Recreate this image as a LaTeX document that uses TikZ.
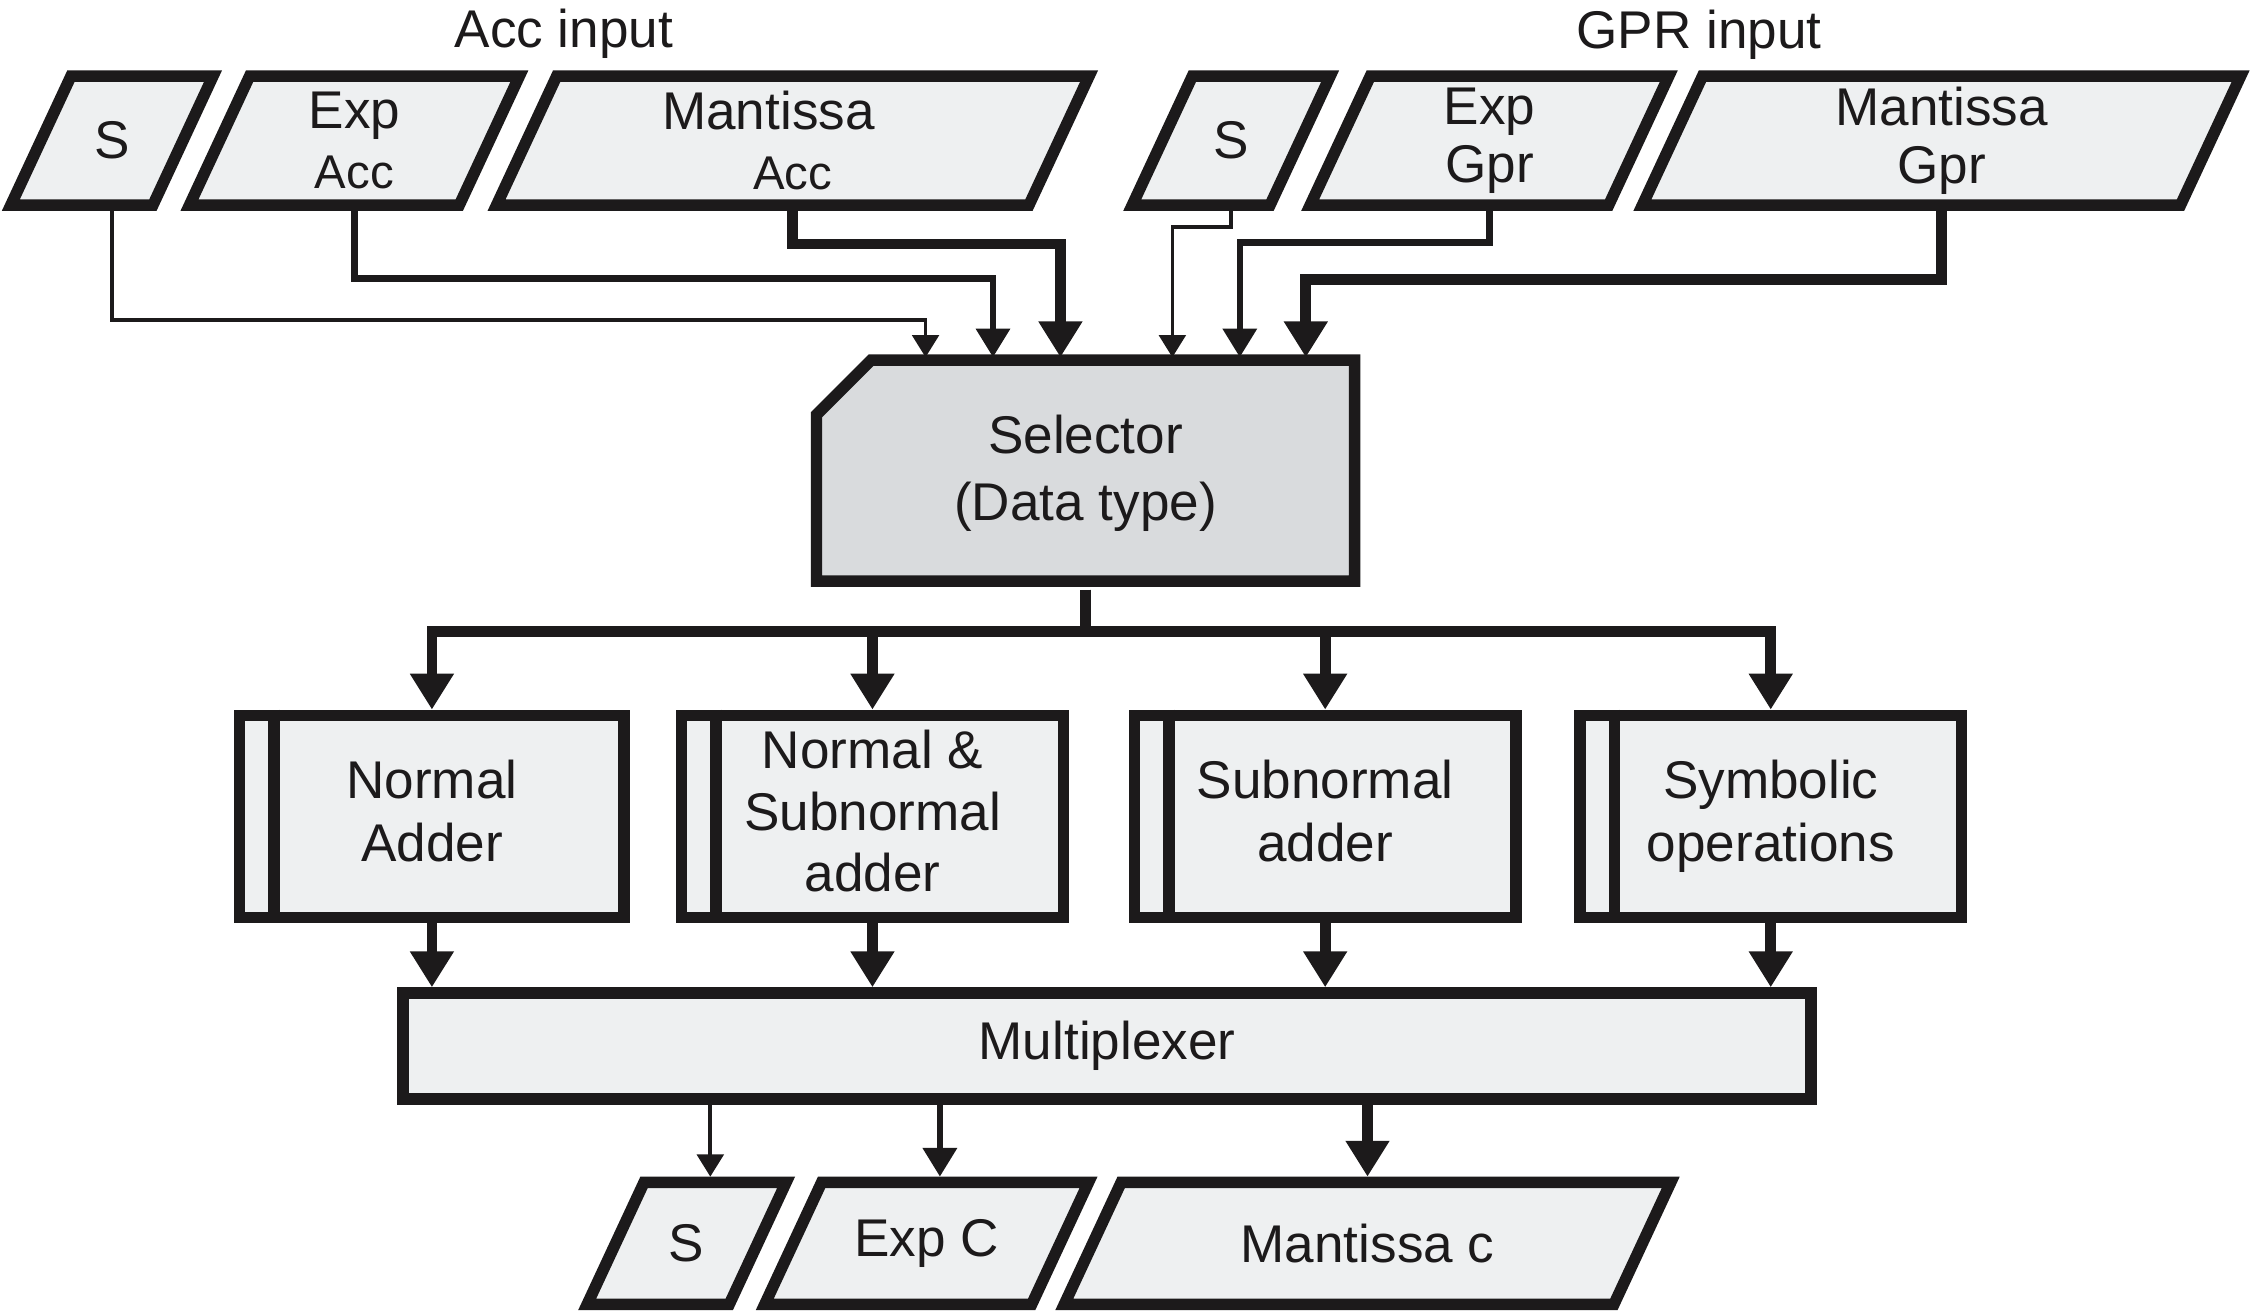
\documentclass[tikz,border=0pt]{standalone}
\usepackage{fontspec}
\setmainfont{Liberation Sans}
\usetikzlibrary{arrows.meta}
\definecolor{ink}{HTML}{1C1A1B}
\definecolor{boxfill}{HTML}{EEF0F1}
\definecolor{selfill}{HTML}{D9DBDD}
% parallelogram: centre x, centre y, width, height (stroke centre line)
\newcommand{\pgram}[4]{%
  \draw[shp] ({#1-#3/2+0.233*#4},{#2-#4/2}) -- ({#1+#3/2+0.233*#4},{#2-#4/2})
    -- ({#1+#3/2-0.233*#4},{#2+#4/2}) -- ({#1-#3/2-0.233*#4},{#2+#4/2}) -- cycle;}
\begin{document}
\begin{tikzpicture}[x=1pt,y=-1pt,
  shp/.style={draw=ink,line width=8pt,fill=boxfill,line join=miter},
  lbl/.style={inner sep=0pt,outer sep=0pt,align=center,text=ink,font=\fontsize{37}{44}\selectfont},
  blk/.style={shp,lbl,outer sep=4pt},
  wthin/.style={draw=ink,line width=2.6pt,-{Triangle[length=15.5pt,width=18.5pt]}},
  wmed/.style={draw=ink,line width=4.6pt,-{Triangle[length=20pt,width=23pt]}},
  wthick/.style={draw=ink,line width=7.5pt,-{Triangle[length=25pt,width=29pt]}}]
\fill[white] (0,0) rectangle (1568,916);
\useasboundingbox (0,0) rectangle (1568,916);

% titles
\node[lbl,anchor=base] (accT) at (393,33) {Acc input};
\node[lbl,anchor=base] (gprT) at (1184,34) {GPR input};

% top row
\pgram{78}{98}{99}{90}
\node[lbl,minimum height=98pt] (accS) at (78,98) {S};
\pgram{247}{98}{188}{90}
\node[lbl,minimum height=98pt] (accE) at (247,98) {Exp\\[-2pt]{\fontsize{33}{40}\selectfont Acc}};
\pgram{552.5}{98}{371}{90}
\node[lbl,minimum height=98pt] (accM) at (552.5,98) {\hspace*{-34pt}Mantissa\\[-2pt]{\fontsize{33}{40}\selectfont Acc}};
\pgram{858}{98}{96}{90}
\node[lbl,minimum height=98pt] (gprS) at (858,98) {S};
\pgram{1038}{98}{208}{90}
\node[lbl,minimum height=98pt] (gprE) at (1038,98) {Exp\\[-4pt]Gpr};
\pgram{1353}{98}{375}{90}
\node[lbl,minimum height=98pt] (gprM) at (1353,98) {Mantissa\\[-4pt]Gpr};

% selector
\draw[shp,fill=selfill] (607,251) -- (944,251) -- (944,405) -- (569,405) -- (569,289) -- cycle;
\node[lbl,font=\fontsize{37}{47}\selectfont,minimum width=383pt,minimum height=162pt] (sel) at (756.5,330) {Selector\\(Data type)};

% adders
\node[blk,minimum width=268pt,minimum height=141pt] (add1) at (301,569) {Normal\\Adder\vphantom{p}};
\node[blk,minimum width=266pt,minimum height=141pt] (add2) at (608,569) {Normal \&\\[-1pt]Subnormal\\[-1pt]adder\vphantom{p}};
\node[blk,minimum width=266pt,minimum height=141pt] (add3) at (923.5,569) {Subnormal\\adder\vphantom{p}};
\node[blk,minimum width=266pt,minimum height=141pt] (add4) at (1234,569) {Symbolic\\operations};
\foreach \b in {add1,add2,add3,add4}
  \draw[ink,line width=8pt] ([xshift=28pt]\b.north west) -- ([xshift=28pt]\b.south west);

% multiplexer
\node[blk,minimum width=981pt,minimum height=74pt] (mux) at (771.5,729) {Multiplexer};

% bottom row
\pgram{478.5}{866.5}{99}{85}
\node[lbl,minimum height=93pt] (outS) at (478.5,866.5) {S};
\pgram{645.75}{866.5}{186}{85}
\node[lbl,minimum height=93pt] (outE) at (645.75,866.5) {Exp C};
\pgram{953}{866.5}{383}{85}
\node[lbl,minimum height=93pt] (outM) at (953,866.5) {Mantissa c};

% input connectors
\coordinate (t1) at ([xshift=-111.5pt]sel.north);
\coordinate (t2) at ([xshift=-64.5pt]sel.north);
\coordinate (t3) at ([xshift=-17.5pt]sel.north);
\coordinate (t4) at ([xshift=60.5pt]sel.north);
\coordinate (t5) at ([xshift=107.5pt]sel.north);
\coordinate (t6) at ([xshift=153.5pt]sel.north);
\coordinate (l1) at (0,223);
\coordinate (l2) at (0,194);
\coordinate (l3) at (0,170);
\coordinate (l4) at (0,158);
\coordinate (l5) at (0,169);
\coordinate (l6) at (0,195);
\draw[wthin]  (accS.south) |- (t1 |- l1) -- (t1);
\draw[wmed]   (accE.south) |- (t2 |- l2) -- (t2);
\draw[wthick] (accM.south) |- (t3 |- l3) -- (t3);
\draw[wthin]  (gprS.south) |- (t4 |- l4) -- (t4);
\draw[wmed]   (gprE.south) |- (t5 |- l5) -- (t5);
\draw[wthick] (gprM.south) |- (t6 |- l6) -- (t6);

% selector to adders
\coordinate (bus) at (0,440);
\foreach \b in {add1,add2,add3,add4}
  \draw[wthick] (sel.south) |- (bus -| \b.north) -- (\b.north);

% adders to multiplexer
\foreach \b in {add1,add2,add3,add4}
  \draw[wthick] (\b.south) -- (\b.south |- mux.north);

% outputs
\coordinate (o1) at ([xshift=16.5pt]outS.north);
\coordinate (o2) at ([xshift=9.25pt]outE.north);
\coordinate (o3) at (outM.north);
\draw[wthin]  (mux.south -| o1) -- (o1);
\draw[wmed]   (mux.south -| o2) -- (o2);
\draw[wthick] (mux.south -| o3) -- (o3);
\end{tikzpicture}
\end{document}
